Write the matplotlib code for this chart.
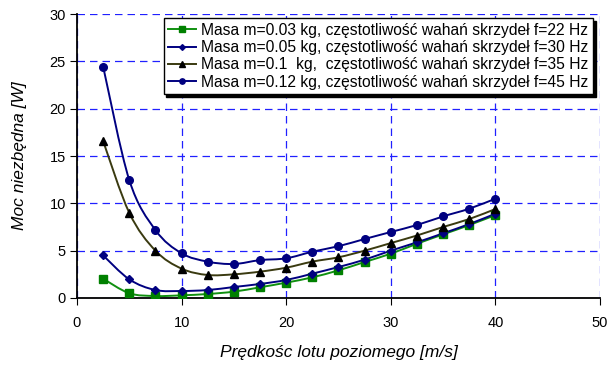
import numpy as np
import matplotlib as mpl
mpl.use('Agg')
import matplotlib.pyplot as plt
from matplotlib.path import Path
from matplotlib.patches import PathPatch
from matplotlib.lines import Line2D

plt.rcParams['font.family'] = ['Liberation Sans', 'DejaVu Sans']

### predkosc lotu [m/s]
v = [2.5, 5, 7.5, 10, 12.5, 15, 17.5, 20, 22.5, 25, 27.5, 30, 32.5, 35, 37.5, 40]

### moc niezbedna [W] dla kolejnych mas
p_003 = [2.04, 0.5, 0.21, 0.28, 0.42, 0.67, 1.13, 1.62, 2.18, 2.92, 3.8, 4.68, 5.73, 6.72, 7.7, 8.76]
p_005 = [4.5, 1.97, 0.84, 0.74, 0.84, 1.16, 1.48, 1.9, 2.57, 3.27, 4.05, 5.0, 5.88, 6.83, 7.81, 8.9]
p_010 = [16.58, 9.0, 5.0, 3.1, 2.43, 2.5, 2.78, 3.2, 3.84, 4.3, 5.0, 5.8, 6.6, 7.5, 8.34, 9.4]
p_012 = [24.45, 12.46, 7.18, 4.72, 3.84, 3.59, 4.0, 4.19, 4.89, 5.47, 6.23, 6.97, 7.71, 8.62, 9.43, 10.49]

labels = ['Masa m=0.03 kg, częstotliwość wahań skrzydeł f=22 Hz',
          'Masa m=0.05 kg, częstotliwość wahań skrzydeł f=30 Hz',
          'Masa m=0.1  kg,  częstotliwość wahań skrzydeł f=35 Hz',
          'Masa m=0.12 kg, częstotliwość wahań skrzydeł f=45 Hz']

series = [p_003, p_005, p_010, p_012]
line_colors = ['#109010', '#000080', '#3a3a10', '#000080']
marker_colors = ['#008000', '#000080', '#000000', '#000080']
markers = ['s', 'D', '^', 'o']
msizes = [5.5, 4.2, 5.5, 5.5]


def smooth_path(x, y):
	# wygladzona linia jak w Excelu (krzywe Beziera przez punkty)
	x = np.asarray(x, float)
	y = np.asarray(y, float)
	n = len(x)
	verts = [(x[0], y[0])]
	codes = [Path.MOVETO]
	for i in range(n - 1):
		i0 = max(i - 1, 0)
		i3 = min(i + 2, n - 1)
		c1 = (x[i] + (x[i + 1] - x[i0]) / 6, y[i] + (y[i + 1] - y[i0]) / 6)
		c2 = (x[i + 1] - (x[i3] - x[i]) / 6, y[i + 1] - (y[i3] - y[i]) / 6)
		verts += [c1, c2, (x[i + 1], y[i + 1])]
		codes += [Path.CURVE4] * 3
	return Path(verts, codes)


fig = plt.figure(figsize=(6.08, 3.65), dpi=100)
ax = fig.add_axes([0.1266, 0.1836, 0.8602, 0.778])

handles = []
for p, lc, mc, mk, ms, lab in zip(series, line_colors, marker_colors, markers, msizes, labels):
	ax.add_patch(PathPatch(smooth_path(v, p), fill=False, edgecolor=lc, lw=1.4, zorder=3))
	ax.plot(v, p, ls='none', marker=mk, ms=ms, color=mc, zorder=4)
	handles.append(Line2D([], [], color=lc, lw=1.4, marker=mk, ms=ms * 0.7, mfc=mc, mec=mc))

ax.set_xlim(0, 50)
ax.set_ylim(0, 30)
ax.set_xticks(range(0, 51, 10))
ax.set_yticks(range(0, 31, 5))
ax.grid(True, color='#2020ff', ls=(0, (6, 4)), lw=0.9)
ax.set_axisbelow(True)
for s in ['top', 'right']:
	ax.spines[s].set_visible(False)
ax.spines['left'].set_linewidth(1.3)
ax.spines['bottom'].set_linewidth(1.3)
ax.tick_params(axis='y', direction='out', length=5, labelsize=10.5, pad=3)
ax.tick_params(axis='x', direction='out', length=5, labelsize=10.5, pad=8)

ax.set_xlabel('Prędkośc lotu poziomego [m/s]', fontsize=12.5, style='italic', labelpad=11)
ax.set_ylabel('Moc niezbędna [W]', fontsize=12.5, style='italic', labelpad=16)

leg = ax.legend(handles, labels, loc='upper right', bbox_to_anchor=(0.9866, 0.986),
	borderaxespad=0, fontsize=11.25, frameon=True, fancybox=False, framealpha=1,
	edgecolor='black', shadow={'color': 'black', 'alpha': 1}, handlelength=1.8,
	handletextpad=0.3, labelspacing=0.15, borderpad=0.3)
leg.get_frame().set_linewidth(1.0)

plt.savefig('out.png', dpi=100)
